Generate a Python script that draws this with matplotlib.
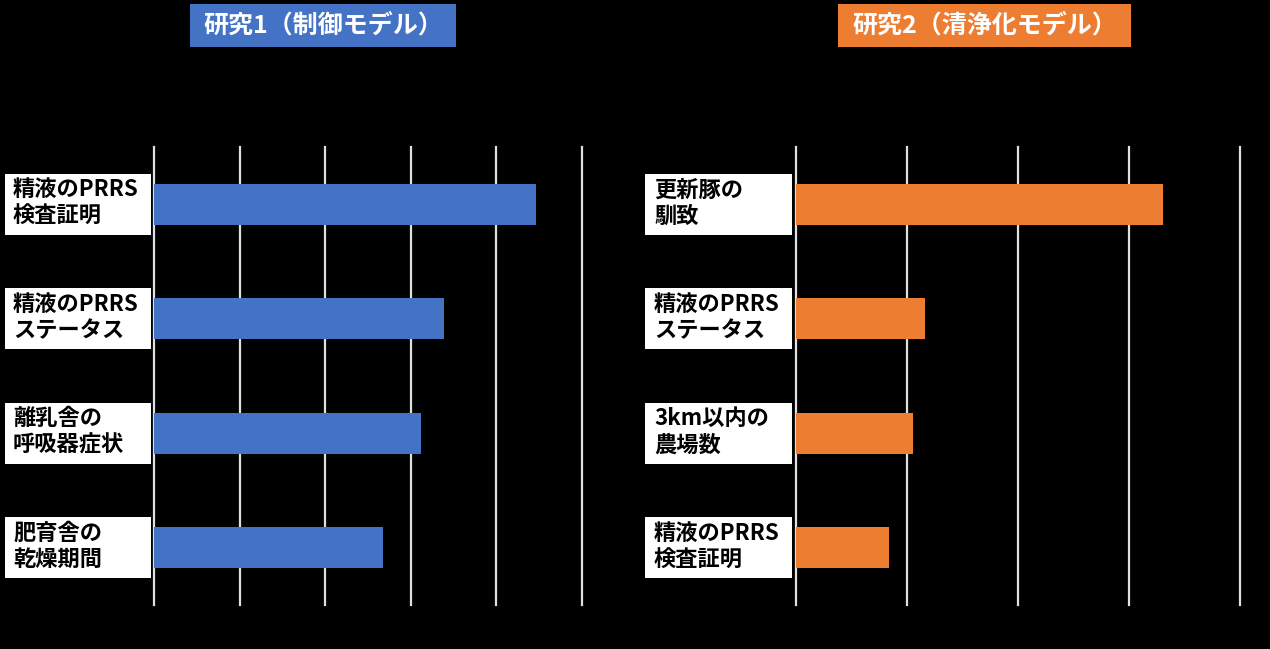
import matplotlib
matplotlib.use("Agg")
import matplotlib.pyplot as plt
from matplotlib.patches import Rectangle
from matplotlib.transforms import blended_transform_factory

plt.rcParams['font.family'] = ['Noto Sans CJK JP', 'DejaVu Sans']

# ---- data ----
title1 = "研究1（制御モデル）"
title2 = "研究2（清浄化モデル）"
cats1 = ["精液のPRRS\n検査証明", "精液のPRRS\nステータス", "離乳舎の\n呼吸器症状", "肥育舎の\n乾燥期間"]
vals1 = [4.46, 3.39, 3.12, 2.68]
cats2 = ["更新豚の\n馴致", "精液のPRRS\nステータス", "3km以内の\n農場数", "精液のPRRS\n検査証明"]
vals2 = [3.31, 1.16, 1.05, 0.84]
ticks1 = [0, 1, 2, 3, 4, 5]
ticks2 = [0, 1, 2, 3, 4]

W, H = 1270, 649
fig = plt.figure(figsize=(W / 100, H / 100), dpi=100)
fig.patch.set_facecolor('black')

def fx(px):
    return px / W

def fy(py):
    return 1 - py / H

top, bot = 147, 605

def panel(x0, x1, cats, vals, ticks, color, box_x0, box_x1, text_x):
    ax = fig.add_axes([fx(x0), fy(bot), fx(x1) - fx(x0), fy(top) - fy(bot)])
    ax.set_facecolor('black')
    y = list(range(len(cats)))
    ax.barh(y, vals, height=0.36, color=color, zorder=3)
    ax.set_ylim(len(cats) - 0.5, -0.5)
    ax.set_xlim(ticks[0], ticks[-1])
    ax.set_xticks(ticks)
    ax.set_yticks([])
    ax.tick_params(axis='x', length=0, labelbottom=False)
    for s in ax.spines.values():
        s.set_visible(False)
    ax.grid(axis='x', color='#e0e0e0', linewidth=1.6, zorder=1)
    ax.set_axisbelow(True)
    for gl in ax.get_xgridlines():
        gl.set_clip_on(False)
    tr = blended_transform_factory(fig.transFigure, ax.transData)
    bh = 61 / ((bot - top) / len(cats))
    for i, c in enumerate(cats):
        r = Rectangle((fx(box_x0), i - bh / 2), fx(box_x1) - fx(box_x0), bh,
                      transform=tr, facecolor='white', edgecolor='none',
                      clip_on=False, zorder=4)
        ax.add_artist(r)
        ax.text(fx(text_x), i - 0.01, c, transform=tr, ha='left', va='center',
                fontsize=16, fontweight='bold', color='black',
                linespacing=1.2, zorder=5, clip_on=False)
    return ax

panel(154, 582, cats1, vals1, ticks1, '#4472C4', 5, 151, 13)
panel(796, 1240, cats2, vals2, ticks2, '#ED7D31', 645, 792, 654)

def title_box(x0, x1, y0, y1, text, color):
    fig.patches.append(Rectangle((fx(x0), fy(y1)), fx(x1) - fx(x0), fy(y0) - fy(y1),
                                 transform=fig.transFigure, facecolor=color,
                                 edgecolor='none'))
    fig.text((fx(x0) + fx(x1)) / 2, fy(25), text, ha='center', va='center',
             color='white', fontsize=18, fontweight='bold')

title_box(190, 456, 4, 47, title1, '#4472C4')
title_box(838, 1131, 4, 47, title2, '#ED7D31')

fig.savefig('out.png', dpi=100, facecolor='black')
